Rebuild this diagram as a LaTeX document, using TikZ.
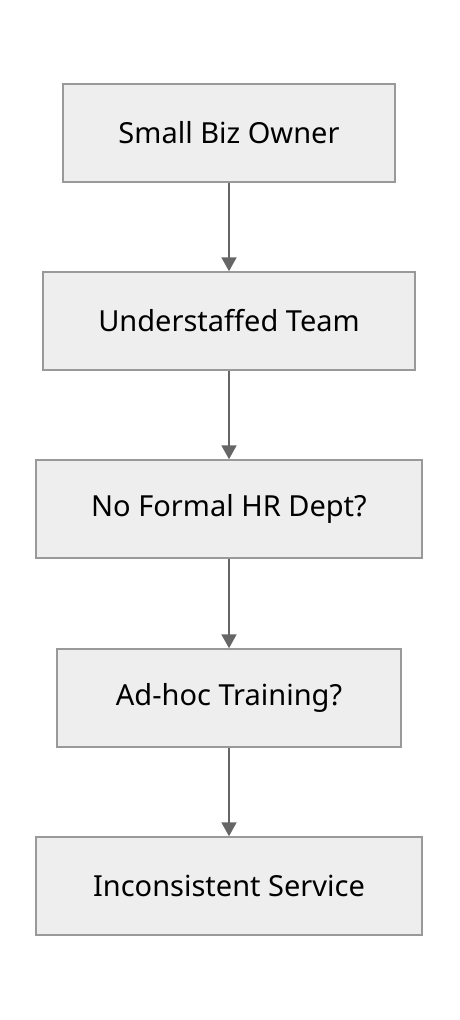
\documentclass[tikz,border=0pt]{standalone}
\usepackage{fontspec}
\setmainfont{Noto Sans}
\usetikzlibrary{arrows.meta}
\definecolor{boxfill}{HTML}{EEEEEE}
\definecolor{boxline}{HTML}{999999}
\definecolor{arrowc}{HTML}{666666}
\tikzset{
  stepbox/.style={draw=boxline, fill=boxfill, line width=1.5pt, minimum height=98pt, inner sep=0pt, font=\fontsize{29}{34}\selectfont, text=black},
  flow/.style={draw=arrowc, line width=2pt, -{Triangle[length=14pt,width=15pt]}}
}
\begin{document}
\begin{tikzpicture}[x=1pt,y=-1pt]
\useasboundingbox (0,0) rectangle (460,1020);
\node[stepbox, minimum width=332pt] (a) at (229,133) {Small Biz Owner};
\node[stepbox, minimum width=372pt] (b) at (229,321) {Understaffed Team};
\node[stepbox, minimum width=386pt] (c) at (229,509) {No Formal HR Dept?};
\node[stepbox, minimum width=344pt] (d) at (229,698) {Ad-hoc Training?};
\node[stepbox, minimum width=386pt] (e) at (229,886) {Inconsistent Service};
\draw[flow] (a) -- (b);
\draw[flow] (b) -- (c);
\draw[flow] (c) -- (d);
\draw[flow] (d) -- (e);
\end{tikzpicture}
\end{document}
